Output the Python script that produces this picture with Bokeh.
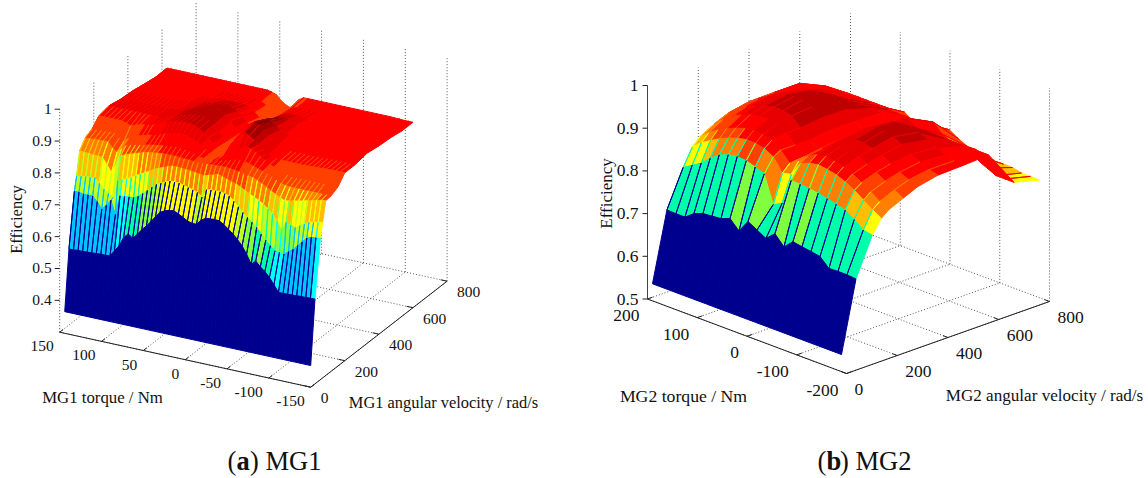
import numpy as np
from bokeh.plotting import figure
from bokeh.layouts import row
from bokeh.models import Range1d, ColumnDataSource
from bokeh.core.properties import value
from bokeh.embed import file_html
from bokeh.resources import INLINE
from math import pi

# ---------- MG1 surface ----------
mg1_torque = [144,138.6,133.1,127.7,122.2,116.8,111.3,105.9,100.4,95,89.6,84.1,78.7,73.2,67.8,62.3,56.9,51.4,46,40.6,35.1,29.7,24.2,18.8,13.3,7.9,2.4,-3,-8.4,-13.9,-19.3,-24.8,-30.2,-35.7,-41.1,-46.6,-52,-57.4,-62.9,-68.3,-73.8,-79.2,-84.7,-90.1,-95.6,-101,-106.4,-111.9,-117.3,-122.8,-128.2,-133.7,-139.1,-144.6,-150]
mg1_speed = [0,25,57,70,88,120,160,200,260,330,400,470,535,600]
mg1_eff = [
[.368]*55,
[.554,.555,.556,.556,.557,.558,.559,.56,.56,.561,.58,.599,.628,.642,.632,.648,.665,.68,.697,.715,.732,.74,.744,.746,.74,.732,.724,.719,.72,.735,.745,.746,.747,.746,.737,.726,.714,.70,.683,.66,.632,.645,.63,.618,.603,.583,.562,.562,.563,.563,.564,.565,.565,.566,.566],
[.723,.722,.72,.72,.72,.705,.685,.70,.719,.678,.739,.74,.742,.743,.75,.762,.775,.788,.80,.807,.814,.82,.82,.82,.816,.812,.808,.803,.792,.818,.82,.821,.821,.818,.814,.80,.786,.771,.759,.747,.734,.716,.70,.686,.673,.671,.669,.68,.69,.705,.72,.735,.74,.742,.744],
[.765,.767,.769,.77,.772,.757,.742,.733,.722,.778,.785,.79,.798,.806,.815,.822,.83,.839,.845,.851,.857,.862,.862,.861,.86,.859,.857,.855,.853,.858,.862,.867,.863,.858,.853,.849,.842,.835,.827,.82,.812,.805,.792,.78,.76,.734,.763,.757,.753,.762,.77,.779,.782,.785,.788],
[.836,.835,.834,.833,.832,.831,.81,.79,.82,.849,.855,.86,.865,.87,.875,.878,.88,.882,.884,.885,.885,.885,.884,.883,.882,.881,.88,.881,.882,.883,.884,.885,.885,.884,.882,.88,.877,.874,.871,.865,.858,.85,.842,.834,.827,.82,.823,.826,.829,.832,.836,.84,.844,.847,.849],
[.863,.864,.865,.866,.867,.867,.85,.84,.855,.868,.872,.875,.878,.882,.885,.888,.89,.892,.895,.897,.898,.897,.895,.892,.888,.883,.88,.875,.878,.882,.886,.89,.895,.898,.90,.898,.895,.89,.885,.88,.875,.87,.862,.855,.852,.85,.85,.85,.85,.85,.85,.85,.85,.851,.851],
[.874,.875,.876,.877,.878,.878,.865,.858,.87,.88,.885,.888,.892,.896,.90,.905,.91,.914,.917,.92,.92,.918,.912,.905,.897,.888,.88,.872,.875,.882,.89,.90,.91,.918,.925,.922,.915,.905,.895,.885,.88,.876,.87,.865,.862,.862,.862,.862,.862,.862,.862,.862,.862,.862,.862],
[.899,.90,.90,.90,.90,.90,.895,.89,.895,.90,.903,.906,.91,.915,.92,.926,.932,.936,.938,.939,.938,.935,.928,.918,.905,.89,.88,.875,.885,.90,.92,.935,.948,.94,.93,.918,.905,.895,.89,.887,.886,.885,.885,.885,.885,.885,.886,.887,.888,.888,.889,.889,.89,.89,.89],
[.906,.906,.906,.906,.906,.906,.906,.906,.906,.906,.906,.906,.907,.912,.917,.922,.928,.932,.936,.938,.939,.937,.93,.918,.90,.885,.875,.865,.885,.91,.93,.945,.956,.95,.935,.92,.905,.895,.89,.888,.888,.888,.888,.888,.888,.888,.889,.889,.89,.89,.89,.89,.89,.89,.89],
[.898,.898,.898,.898,.898,.898,.898,.898,.898,.898,.898,.90,.903,.906,.91,.914,.918,.922,.926,.93,.932,.933,.928,.92,.905,.885,.87,.86,.875,.895,.915,.928,.935,.93,.92,.91,.903,.90,.897,.896,.896,.896,.896,.896,.896,.896,.896,.896,.896,.896,.896,.897,.897,.897,.897],
[.895,.895,.895,.895,.895,.895,.895,.895,.895,.895,.896,.898,.90,.902,.904,.906,.908,.91,.912,.912,.912,.912,.908,.90,.89,.875,.86,.855,.865,.88,.895,.905,.91,.912,.912,.908,.90,.895,.892,.891,.891,.891,.891,.891,.891,.891,.891,.891,.891,.891,.891,.891,.891,.891,.891],
[.888,.888,.888,.888,.888,.888,.888,.888,.888,.888,.888,.888,.888,.888,.888,.888,.889,.89,.891,.892,.892,.892,.89,.885,.875,.862,.85,.848,.858,.872,.885,.89,.892,.892,.892,.89,.888,.888,.888,.888,.888,.888,.888,.888,.888,.888,.888,.888,.888,.888,.888,.888,.888,.888,.888],
[.882,.882,.882,.882,.882,.882,.882,.882,.882,.882,.882,.882,.882,.882,.882,.882,.882,.882,.882,.882,.882,.882,.882,.878,.87,.858,.846,.844,.852,.868,.88,.882,.882,.882,.882,.882,.882,.882,.882,.882,.882,.882,.882,.882,.882,.882,.882,.882,.882,.882,.882,.882,.882,.882,.882],
[.883,.883,.883,.883,.883,.883,.883,.883,.883,.883,.883,.883,.883,.883,.883,.883,.883,.883,.883,.883,.883,.883,.883,.88,.875,.86,.85,.844,.855,.875,.884,.884,.884,.884,.884,.884,.884,.884,.884,.884,.884,.884,.884,.884,.884,.884,.884,.884,.884,.884,.883,.883,.882,.882,.882],
]

# ---------- MG2 surface ----------
mg2_torque = [190,171.9,153.8,135.7,117.6,99.5,81.4,63.3,45.2,27.1,9,-9,-27.1,-45.2,-63.3,-81.4,-99.5,-117.6,-135.7,-153.8,-171.9,-190]
mg2_speed = [0,57,121,157,186,243,300,380,480,580,680,780]
mg2_eff = [
[.54]*22,
[.701,.70,.70,.716,.724,.726,.728,.736,.715,.745,.733,.721,.74,.717,.737,.733,.73,.726,.706,.707,.707,.705],
[.787,.80,.813,.832,.848,.856,.86,.858,.851,.843,.779,.79,.851,.85,.848,.845,.84,.835,.829,.815,.798,.794],
[.827,.845,.858,.87,.88,.887,.892,.891,.887,.875,.845,.85,.883,.892,.896,.893,.888,.88,.868,.853,.838,.826],
[.844,.862,.877,.888,.897,.904,.908,.906,.90,.885,.862,.875,.895,.906,.91,.907,.901,.892,.88,.866,.851,.84],
[.863,.882,.897,.908,.916,.92,.922,.918,.905,.885,.865,.88,.90,.915,.92,.918,.912,.903,.892,.879,.866,.855],
[.877,.893,.908,.918,.925,.93,.93,.925,.905,.885,.87,.885,.905,.92,.925,.925,.92,.912,.90,.888,.878,.87],
[.886,.90,.913,.923,.932,.938,.938,.93,.91,.89,.875,.89,.91,.925,.935,.937,.93,.92,.905,.895,.885,.88],
[.887,.897,.905,.915,.922,.928,.93,.925,.91,.89,.875,.89,.905,.92,.925,.925,.92,.91,.90,.89,.885,.882],
[.887,.888,.889,.89,.89,.89,.89,.89,.89,.888,.87,.885,.90,.885,.885,.885,.885,.885,.885,.885,.885,.885],
[.86,.86,.86,.86,.86,.86,.86,.86,.86,.86,.85,.86,.87,.85,.84,.84,.84,.83,.81,.80,.80,.80],
[.82,.82,.82,.82,.82,.82,.825,.81,.805,.81,.82,.823,.81,.80,.80,.795,.79,.79,.79,.785,.785,.784],
]

# ---------- tick labels and colour levels ----------
mg1_torque_ticks = [150,100,50,0,-50,-100,-150]
mg2_torque_ticks = [200,100,0,-100,-200]
speed_ticks = [0,200,400,600,800]
mg1_z_ticks = [1,0.9,0.8,0.7,0.6,0.5,0.4]
mg2_z_ticks = [1,0.9,0.8,0.7,0.6,0.5]

level_colors = ["#00008F","#0000FF","#0040FF","#0080FF","#00C4FF","#00FFFF","#00FFAA","#80FF40","#BFFF20",
                "#FFFF00","#FFBF00","#FF8000","#FF4000","#FF0000","#E80000","#BF0000","#A00000","#800000"]
mg1_level_edges = [.4075,.447,.4865,.526,.5655,.605,.6445,.684,.7235,.763,.8025,.842,.8815,.905,.925,.94,.955]
mg2_level_edges = [.5665,.593,.6195,.646,.6725,.699,.734,.752,.7785,.805,.8315,.858,.8845,.905,.925,.94,.955]
SERIF = "Liberation Serif"


def panel(width, xr, torque, speed, eff, t_ticks, z_ticks, z0, origin, t_vec, s_vec, z_h,
          edges, fs, t_off, s_off, z_off, z_dash, names):
    p = figure(width=width, height=478, x_range=Range1d(*xr), y_range=Range1d(478, 0),
               output_backend="svg", toolbar_location=None,
               x_axis_location=None, y_axis_location=None, min_border=0)
    p.grid.visible = False
    p.outline_line_color = None

    Tmax, Tmin = t_ticks[0], t_ticks[-1]
    Smax = speed_ticks[-1]

    def proj(T, S, z):
        u = (Tmax - np.asarray(T, float)) / (Tmax - Tmin)
        v = np.asarray(S, float) / Smax
        w = (np.asarray(z, float) - z0) / (1 - z0)
        return origin[0] + t_vec[0] * u + s_vec[0] * v, origin[1] + t_vec[1] * u + s_vec[1] * v - z_h * w

    # dotted grid on the floor and the two back walls
    gx, gy = [], []
    def seg(a, b):
        x0, y0 = proj(*a); x1, y1 = proj(*b)
        gx.append([float(x0), float(x1)]); gy.append([float(y0), float(y1)])
    for s in speed_ticks:
        seg((Tmax, s, z0), (Tmin, s, z0))
        if s:
            seg((Tmax, s, z0), (Tmax, s, 1))
    for t in t_ticks:
        seg((t, 0, z0), (t, Smax, z0))
        if t != Tmax:
            seg((t, Smax, z0), (t, Smax, 1))
    p.multi_line(gx, gy, line_color="#555555", line_width=1, line_dash="1 2")

    # surface: flat shaded cells, far ones first, each with its edge stripe
    def col(z):
        return level_colors[int(np.searchsorted(edges, z, side="right"))]
    cells = []
    for r in range(len(speed) - 1):
        for c in range(len(torque) - 1):
            u = (Tmax - torque[c]) / (Tmax - Tmin)
            depth = t_vec[1] * (u + 0.5 * (torque[c] - torque[c + 1]) / (Tmax - Tmin)) + s_vec[1] * (speed[r] + speed[r + 1]) / 2 / Smax
            cells.append((depth, r, c))
    cells.sort()
    xs, ys, fc, lc, lw, fa = [], [], [], [], [], []
    for _, r, c in cells:
        Ts = [torque[c], torque[c + 1], torque[c + 1], torque[c]]
        Ss = [speed[r], speed[r], speed[r + 1], speed[r + 1]]
        Zs = [eff[r][c], eff[r][c + 1], eff[r + 1][c + 1], eff[r + 1][c]]
        x, y = proj(Ts, Ss, Zs)
        color = col(eff[r][c])
        xs.append(x.tolist()); ys.append(y.tolist()); fc.append(color); lc.append(color); lw.append(1.0); fa.append(1)
        if r > 0:
            x, y = proj([torque[c], torque[c]], [speed[r], speed[r + 1]], [eff[r][c], eff[r + 1][c]])
            stripe = col(eff[r - 1][c])
            xs.append(x.tolist()); ys.append(y.tolist()); fc.append(stripe); lc.append(stripe); lw.append(1.0); fa.append(0)
    src = ColumnDataSource(dict(xs=xs, ys=ys, fc=fc, lc=lc, lw=lw, fa=fa))
    p.patches("xs", "ys", source=src, fill_color="fc", fill_alpha="fa", line_color="lc", line_width="lw")

    # axes
    ax_x, ax_y = [], []
    def aseg(a, b):
        x0, y0 = proj(*a); x1, y1 = proj(*b)
        ax_x.append([float(x0), float(x1)]); ax_y.append([float(y0), float(y1)])
    aseg((Tmax, 0, z0), (Tmin, 0, z0))
    aseg((Tmin, 0, z0), (Tmin, Smax, z0))
    for t in t_ticks:
        aseg((t, 0, z0), (t, Smax * 0.025, z0))
    for s in speed_ticks:
        aseg((Tmin, s, z0), (Tmin + (Tmax - Tmin) * 0.025, s, z0))
    p.multi_line(ax_x, ax_y, line_color="#222222", line_width=1)
    x0, y0 = proj(Tmax, 0, z0); x1, y1 = proj(Tmax, 0, 1)
    p.line([float(x0), float(x1)], [float(y0), float(y1)], line_color="#444444", line_width=1, line_dash=z_dash)
    tx, ty = [], []
    for z in z_ticks:
        x, y = proj(Tmax, 0, z)
        tx.append([float(x) - 5, float(x)]); ty.append([float(y), float(y)])
    p.multi_line(tx, ty, line_color="#222222", line_width=1)

    def label(xv, yv, txt, size=fs, align="center", angle=0, weight="normal", base="middle"):
        p.text([xv], [yv], text=[txt], text_font=value(SERIF), text_font_size=f"{size}px", text_align=align,
               text_baseline=base, angle=angle, text_color="#111111", text_font_style=weight)

    for t in t_ticks:
        x, y = proj(t, 0, z0)
        label(float(x) + t_off[0], float(y) + t_off[1], str(t), align="right")
    for s in speed_ticks:
        x, y = proj(Tmin, s, z0)
        label(float(x) + s_off[0], float(y) + s_off[1], str(s), align="left")
    for z in z_ticks:
        x, y = proj(Tmax, 0, z)
        label(float(x) + z_off, float(y), str(z), align="right")

    tt, st, zt, cap_x, cap = names
    label(tt[1], tt[2], tt[0], size=tt[3])
    label(st[1], st[2], st[0], size=st[3])
    label(zt[0], zt[1], "Efficiency", size=zt[2], angle=pi / 2)
    label(cap_x, 460, "(", size=26.5, align="left")
    label(cap_x + 9, 460, cap[0], size=26.5, align="left", weight="bold")
    label(cap_x + 22.5, 460, ") " + cap[1], size=26.5, align="left")
    return p


left = panel(574, (0, 574), mg1_torque, mg1_speed, mg1_eff, mg1_torque_ticks, mg1_z_ticks, 0.3,
             (59.2, 331.7), (251, 55), (136.4, -106), 223, mg1_level_edges, 15.5, (-6, 14), (10, 11), -8, "1 2",
             (("MG1 torque / Nm", 102, 397, 16.8), ("MG1 angular velocity / rad/s", 443, 402, 16.4), (16, 219, 16.5), 227, ("a", "MG1")))
right = panel(574, (574, 1148), mg2_torque, mg2_speed, mg2_eff, mg2_torque_ticks, mg2_z_ticks, 0.5,
              (647, 298.5), (199, 74.5), (203, -72), 213.5, mg2_level_edges, 17.5, (-8, 16.5), (8, 16), -9, "solid",
              (("MG2 torque / Nm", 683, 395, 17.7), ("MG2 angular velocity / rad/s", 1044, 395, 17.1), (606, 193, 17), 817, ("b", "MG2")))

open("out.html", "w").write(file_html(row(left, right), INLINE))
